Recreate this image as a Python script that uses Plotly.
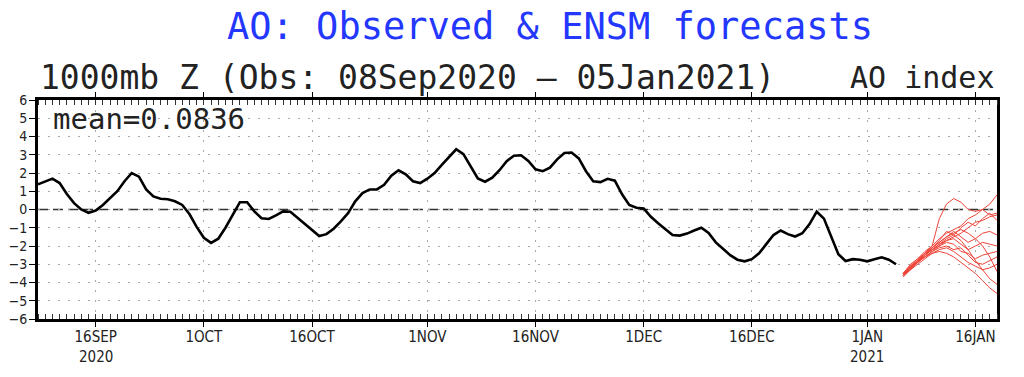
import datetime as dt
import plotly.graph_objects as go

# ---------------- data ----------------
obs_start = "2020-09-08"
obs_values = [
    1.38, 1.55, 1.69, 1.45, 0.85, 0.35, 0.00, -0.18, -0.06, 0.25,
    0.65, 1.00, 1.55, 2.00, 1.80, 1.10, 0.72, 0.59, 0.56, 0.45,
    0.25, -0.25, -0.95, -1.55, -1.83, -1.60, -1.00, -0.30, 0.40, 0.40,
    -0.10, -0.48, -0.52, -0.32, -0.10, -0.12, -0.45, -0.75, -1.10, -1.45,
    -1.35, -1.05, -0.65, -0.20, 0.45, 0.90, 1.10, 1.10, 1.35, 1.85,
    2.15, 1.93, 1.55, 1.45, 1.69, 2.00, 2.45, 2.85, 3.30, 3.03,
    2.39, 1.70, 1.52, 1.74, 2.15, 2.65, 2.95, 2.97, 2.66, 2.20,
    2.10, 2.29, 2.75, 3.10, 3.12, 2.80, 2.10, 1.55, 1.50, 1.68,
    1.58, 0.83, 0.25, 0.10, 0.06, -0.40, -0.75, -1.10, -1.40, -1.43,
    -1.32, -1.15, -1.00, -1.28, -1.80, -2.15, -2.50, -2.75, -2.84, -2.72,
    -2.40, -1.90, -1.40, -1.15, -1.35, -1.48, -1.30, -0.80, -0.12, -0.50,
    -1.50, -2.45, -2.82, -2.72, -2.75, -2.84, -2.72, -2.62, -2.75, -3.00,
]

fcst_start = "2021-01-06"
ensemble = [
    [-3.6, -3.2, -2.8, -2.4, -2.0, -0.5, 0.3, 0.6, 0.4, 0.0, -0.1, 0.0, -0.3, -0.2],
    [-3.5, -3.0, -2.7, -2.3, -2.0, -1.6, -1.3, -1.1, -0.9, -0.5, -0.3, 0.0, 0.3, 0.8],
    [-3.6, -3.3, -2.8, -2.5, -2.1, -1.7, -1.2, -1.4, -1.0, -0.7, -0.9, -0.5, -0.2, -0.6],
    [-3.5, -3.1, -2.7, -2.4, -2.1, -1.8, -1.5, -1.2, -1.5, -1.8, -1.6, -1.3, -1.2, -1.4],
    [-3.7, -3.3, -2.9, -2.5, -2.2, -1.9, -1.7, -1.6, -1.9, -2.2, -2.0, -1.8, -1.9, -2.0],
    [-3.5, -3.1, -2.8, -2.6, -2.3, -2.0, -1.8, -1.9, -2.3, -2.4, -2.7, -2.5, -2.4, -2.3],
    [-3.6, -3.2, -2.9, -2.6, -2.3, -2.1, -2.0, -2.2, -2.1, -2.5, -2.9, -3.0, -2.8, -2.6],
    [-3.6, -3.3, -3.0, -2.7, -2.4, -2.2, -2.1, -2.3, -2.6, -2.9, -3.1, -3.3, -3.2, -3.0],
    [-3.5, -3.2, -2.9, -2.5, -2.2, -1.9, -1.6, -1.4, -1.7, -2.2, -2.8, -3.3, -3.8, -4.1],
    [-3.6, -3.2, -2.9, -2.6, -2.4, -2.3, -2.4, -2.6, -2.9, -3.2, -3.5, -3.9, -4.3, -4.6],
    [-3.5, -3.1, -2.8, -2.4, -2.1, -1.8, -1.5, -1.3, -1.1, -1.3, -1.6, -2.0, -2.6, -3.4],
    [-3.6, -3.2, -2.8, -2.5, -2.2, -2.0, -1.7, -1.5, -1.3, -1.0, -0.7, -0.6, -0.4, -0.3],
]

tick_dates = ["2020-09-16", "2020-10-01", "2020-10-16", "2020-11-01", "2020-11-16",
              "2020-12-01", "2020-12-16", "2021-01-01", "2021-01-16"]
tick_labels = ["16SEP", "1OCT", "16OCT", "1NOV", "16NOV",
               "1DEC", "16DEC", "1JAN", "16JAN"]
year_dates = ["2020-09-16", "2021-01-01"]
year_labels = ["2020", "2021"]
y_ticks = list(range(-6, 7))
x_range = ["2020-09-08", "2021-01-19"]

title_text = "AO: Observed & ENSM forecasts"
subtitle_text = "1000mb Z (Obs: 08Sep2020 \u2013 05Jan2021)"
right_text = "AO index"
mean_text = "mean=0.0836"

# ---------------- build ----------------
def dates_from(start, n):
    d0 = dt.date.fromisoformat(start)
    return [d0 + dt.timedelta(days=i) for i in range(n)]

obs_dates = dates_from(obs_start, len(obs_values))
fc_dates = dates_from(fcst_start, len(ensemble[0]))

fig = go.Figure()

# zero line
fig.add_shape(type="line", xref="paper", x0=0, x1=1, yref="y", y0=0, y1=0,
              line=dict(color="#333333", width=1.5, dash="10px,5px"), layer="below")

for member in ensemble:
    fig.add_trace(go.Scatter(x=fc_dates, y=member, mode="lines",
                             line=dict(color="rgb(238,68,56)", width=1),
                             showlegend=False, hoverinfo="skip"))

fig.add_trace(go.Scatter(x=obs_dates, y=obs_values, mode="lines",
                         line=dict(color="black", width=2.6),
                         showlegend=False))

mono = "DejaVu Sans Mono"
narrow = "Liberation Sans Narrow, DejaVu Sans Condensed, Liberation Sans"

annotations = [
    dict(text=subtitle_text, xref="paper", yref="paper", x=0.0, y=1.105,
         xanchor="left", yanchor="middle", showarrow=False,
         font=dict(family=mono, size=33, color="#222222")),
    dict(text=right_text, xref="paper", yref="paper", x=1.0, y=1.105,
         xanchor="right", yanchor="middle", showarrow=False,
         font=dict(family=mono, size=30, color="#222222")),
    dict(text=mean_text, xref="paper", yref="paper", x=0.014, y=0.915,
         xanchor="left", yanchor="middle", showarrow=False,
         font=dict(family=mono, size=29, color="#222222")),
]
for d, lab in zip(year_dates, year_labels):
    annotations.append(dict(text=lab, xref="x", yref="paper", x=d, y=-0.174,
                            xanchor="center", yanchor="middle", showarrow=False,
                            font=dict(family=narrow, size=15, color="#222222")))

# the page body has an 8px default margin, so the figure is sized/offset to fit the window
fig.update_layout(
    width=1016, height=369,
    margin=dict(l=30, r=27, t=92, b=58),
    paper_bgcolor="white", plot_bgcolor="white",
    title=dict(text=title_text, x=0.5335, xanchor="center", y=0.95, yanchor="middle",
               font=dict(family=mono, size=37, color="rgb(35,55,255)")),
    annotations=annotations,
)

fig.update_xaxes(
    range=x_range, tickmode="array", tickvals=tick_dates, ticktext=tick_labels,
    showgrid=True, gridcolor="#a8a8a8", griddash="2px,8px", gridwidth=1,
    showline=True, linecolor="black", linewidth=3, mirror="allticks",
    ticks="outside", ticklen=5, tickcolor="black", tickwidth=1,
    ticklabelstandoff=-3,
    tickfont=dict(family=narrow, size=15, color="#222222"),
    minor=dict(ticks="inside", dtick=86400000, ticklen=5, tickcolor="#333333",
               tickwidth=1, showgrid=False),
    zeroline=False, automargin=False,
)
fig.update_yaxes(
    range=[-6, 6], tickmode="array", tickvals=y_ticks,
    showgrid=True, gridcolor="#a8a8a8", griddash="2px,8px", gridwidth=1,
    showline=True, linecolor="black", linewidth=3, mirror=True,
    ticks="outside", ticklen=6, tickcolor="black", tickwidth=1,
    ticklabelstandoff=-1,
    tickfont=dict(family=narrow, size=14, color="#222222"),
    zeroline=False, automargin=False,
)

fig.write_html("out.html")
